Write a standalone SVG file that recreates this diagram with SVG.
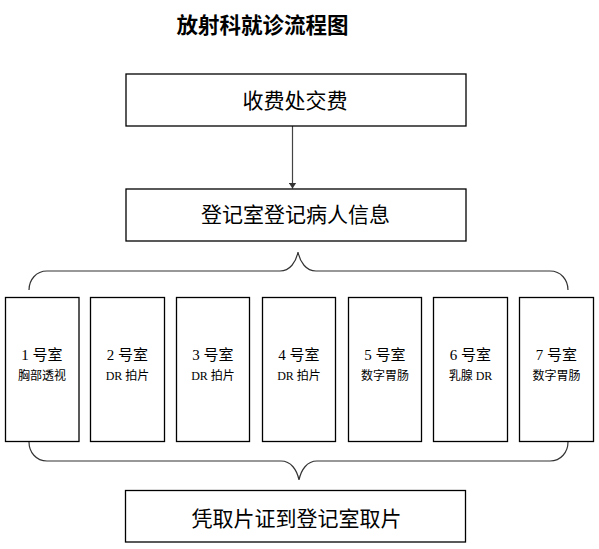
<svg xmlns="http://www.w3.org/2000/svg" width="599" height="549" viewBox="0 0 599 549">
<defs>
<style>
.box{fill:#fff;stroke:#000;stroke-width:1.3}
.brace{fill:none;stroke:#333;stroke-width:1.2}
.big{font-family:"Liberation Serif","Noto Sans CJK SC",serif;font-size:21px;fill:#000;text-anchor:middle}
.t1{font-family:"Liberation Serif","Noto Sans CJK SC",serif;font-size:15px;fill:#000;text-anchor:middle}
.t2{font-family:"Liberation Serif","Noto Sans CJK SC",serif;font-size:12px;fill:#000;text-anchor:middle}
.title{font-family:"Liberation Serif","Noto Sans CJK SC",serif;font-size:21.5px;font-weight:bold;fill:#000;text-anchor:middle}
</style>
<marker id="arr" markerWidth="6" markerHeight="8" refX="6" refY="4" orient="auto" markerUnits="userSpaceOnUse">
<path d="M0,0 L6,4 L0,8 Z" fill="#333"/>
</marker>
</defs>
<rect width="599" height="549" fill="#fff"/>
<text class="title" x="262.5" y="33">放射科就诊流程图</text>

<g id="connectors">
<line x1="292.5" y1="126" x2="292.5" y2="188.5" stroke="#444" stroke-width="1.2" marker-end="url(#arr)"/>
<path class="brace" d="M29,290 C29,280 36,271 47,271 L280,271 C290,271 296,262 298,252 C300,262 306,271 316,271 L550,271 C561,271 568,280 568,290"/>
<path class="brace" d="M29,442 C29,452 36,461 47,461 L281,461 C291,461 297,470 299,480 C301,470 307,461 317,461 L550,461 C561,461 568,452 568,442"/>
</g>

<g id="n-pay">
<rect class="box" x="126" y="74" width="340" height="52"/>
<text class="big" x="295" y="108">收费处交费</text>
</g>
<g id="n-register">
<rect class="box" x="126" y="189" width="340" height="52"/>
<text class="big" x="295.5" y="222">登记室登记病人信息</text>
</g>

<g id="room1">
<rect class="box" x="5.5" y="297.5" width="73.5" height="144"/>
<text class="t1" x="42" y="360">1 号室</text>
<text class="t2" x="42" y="380">胸部透视</text>
</g>
<g id="room2">
<rect class="box" x="90.5" y="297.5" width="74" height="144"/>
<text class="t1" x="127.5" y="360">2 号室</text>
<text class="t2" x="127.5" y="380">DR 拍片</text>
</g>
<g id="room3">
<rect class="box" x="176.5" y="297.5" width="73" height="144"/>
<text class="t1" x="213" y="360">3 号室</text>
<text class="t2" x="213" y="380">DR 拍片</text>
</g>
<g id="room4">
<rect class="box" x="262.5" y="297.5" width="73" height="144"/>
<text class="t1" x="299" y="360">4 号室</text>
<text class="t2" x="299" y="380">DR 拍片</text>
</g>
<g id="room5">
<rect class="box" x="348.5" y="297.5" width="73" height="144"/>
<text class="t1" x="385" y="360">5 号室</text>
<text class="t2" x="385" y="380">数字胃肠</text>
</g>
<g id="room6">
<rect class="box" x="433.5" y="297.5" width="74" height="144"/>
<text class="t1" x="470.5" y="360">6 号室</text>
<text class="t2" x="470.5" y="380">乳腺 DR</text>
</g>
<g id="room7">
<rect class="box" x="519.5" y="297.5" width="74" height="144"/>
<text class="t1" x="556.5" y="360">7 号室</text>
<text class="t2" x="556.5" y="380">数字胃肠</text>
</g>

<g id="n-pickup">
<rect class="box" x="125.5" y="490.5" width="340" height="51.5"/>
<text class="big" x="296.5" y="526">凭取片证到登记室取片</text>
</g>
</svg>
